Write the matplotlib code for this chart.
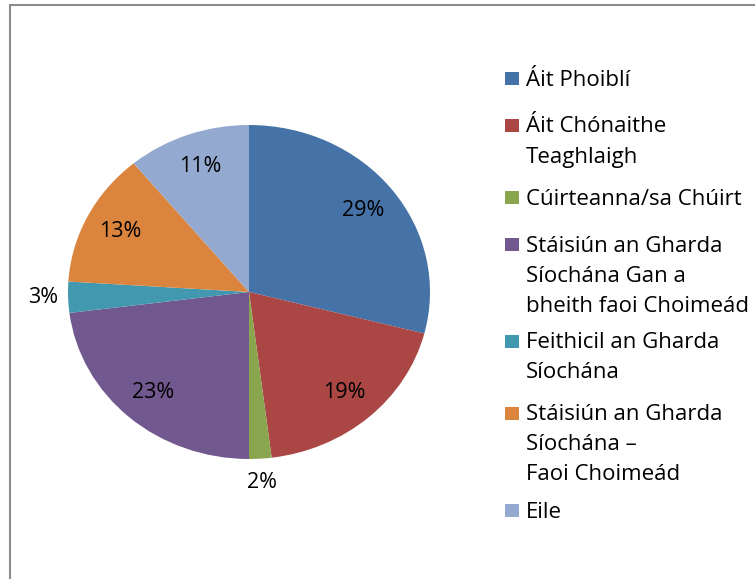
import numpy as np
import matplotlib.pyplot as plt
from matplotlib.patches import Rectangle

# data
categories = ["Áit Phoiblí", "Áit Chónaithe\nTeaghlaigh", "Cúirteanna/sa Chúirt",
              "Stáisiún an Gharda\nSíochána Gan a\nbheith faoi Choimeád",
              "Feithicil an Gharda\nSíochána",
              "Stáisiún an Gharda\nSíochána –\nFaoi Choimeád", "Eile"]
shares = [29, 19, 2, 23, 3, 13, 11]
colors = ["#4572A7", "#AA4643", "#89A54E", "#71588F", "#4198AF", "#DB843D", "#93A9CF"]

W, H = 755, 579
FONT = "Open Sans"

fig = plt.figure(figsize=(W / 100, H / 100), dpi=100)

def fx(px):
    return px / W

def fy(py):
    return 1 - py / H

# chart border (cut off on the right and bottom, like the source)
fig.patches.append(Rectangle((fx(9.5), fy(H + 10)), fx(W + 20), fy(4.5) - fy(H + 10),
                             transform=fig.transFigure, fill=False,
                             edgecolor="#8c8c8c", linewidth=1.5))

# pie (slightly stretched horizontally, as in the reference)
cx, cy, rx, ry = 249, 292, 181, 167
ax = fig.add_axes([fx(cx - rx), fy(cy + ry), (2 * rx) / W, (2 * ry) / H])
wedges, texts, autotexts = ax.pie(shares, colors=colors, startangle=90, counterclock=False,
                                  autopct="%1.0f%%", pctdistance=0.8,
                                  wedgeprops=dict(linewidth=0),
                                  textprops=dict(fontsize=15.5, family=FONT, color="#000000"))
ax.set_aspect("auto")
ax.set_xlim(-1, 1)
ax.set_ylim(-1, 1)

# small slices get their labels outside
for w, t, v in zip(wedges, autotexts, shares):
    if v < 5:
        ang = np.deg2rad((w.theta1 + w.theta2) / 2)
        t.set_position((1.14 * np.cos(ang), 1.14 * np.sin(ang)))

# legend drawn by hand so the marker sits on the first line
y = 78.5
for lab, c in zip(categories, colors):
    fig.patches.append(Rectangle((fx(505), fy(y + 6.5)), 14 / W, 13 / H,
                                 transform=fig.transFigure, facecolor=c, edgecolor="none"))
    lines = lab.split("\n")
    for i, ln in enumerate(lines):
        fig.text(fx(526), fy(y + 7 + 30 * i), ln, fontsize=16, family=FONT,
                 color="#000000", va="baseline", ha="left")
    y += 25 * len(lines) + 22

fig.savefig("out.png", dpi=100)
